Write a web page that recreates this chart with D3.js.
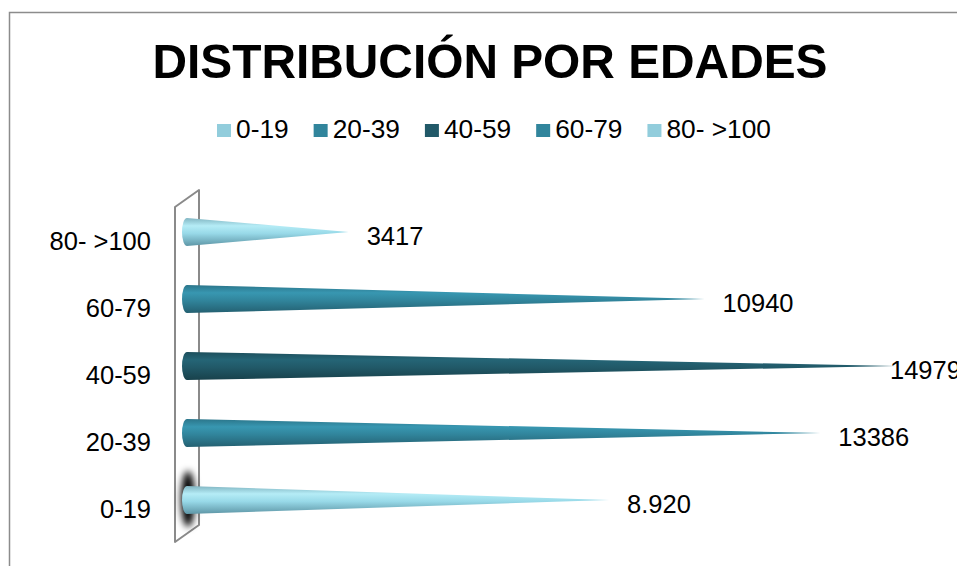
<!DOCTYPE html>
<html><head><meta charset="utf-8">
<script src="https://cdn.jsdelivr.net/npm/d3@7"></script>
<style>
html,body{margin:0;padding:0;background:#fff;}
svg{display:block;font-family:"Liberation Sans",Arial,sans-serif;}
</style></head>
<body>
<svg id="chart" width="957" height="566"></svg>
<script>
const title = "DISTRIBUCIÓN POR EDADES";
const categories = ["0-19", "20-39", "40-59", "60-79", "80- >100"];
const values = [8920, 13386, 14979, 10940, 3417];
const valueLabels = ["8.920", "13386", "14979", "10940", "3417"];
const colors = ["#92CDDC", "#31859C", "#215968", "#31859C", "#92CDDC"];
const xDomain = [0, 16000];

const W = 957, H = 566;
const svg = d3.select("#chart");
const defs = svg.append("defs");

// outer chart border (clipped at right/bottom)
svg.append("path").attr("d", `M9.5,${H} V12.5 H${W}`)
  .attr("fill", "none").attr("stroke", "#8c8c8c").attr("stroke-width", 1.5);

// title
svg.append("text").attr("x", 490).attr("y", 78).attr("text-anchor", "middle")
  .attr("font-size", 49).attr("font-weight", "bold").attr("fill", "#000")
  .attr("textLength", 675).attr("lengthAdjust", "spacingAndGlyphs")
  .text(title);

// legend
const leg = svg.append("g");
let lx = 217;
categories.forEach((c, i) => {
  leg.append("rect").attr("x", lx).attr("y", 124).attr("width", 14).attr("height", 13).attr("fill", colors[i]);
  const t = leg.append("text").attr("x", lx + 19).attr("y", 138).attr("font-size", 26.3).attr("fill", "#000").text(c);
  const w = t.node().getComputedTextLength();
  lx += 19 + w + 25;
});

// scales
const x = d3.scaleLinear().domain(xDomain).range([187, 944]);
const y = d3.scaleBand().domain(categories.slice().reverse()).range([198.5, 533.5]).padding(0);
const cy = c => y(c) + y.bandwidth() / 2;
const R = 14;

// back wall
svg.append("path")
  .attr("d", "M175,207 L199,190 L199,525 L175,542 Z")
  .attr("fill", "#fff").attr("stroke", "#8a8a8a").attr("stroke-width", 2).attr("stroke-linejoin", "round");

// shadow under first cone
const blur = defs.append("filter").attr("id", "blur").attr("x", "-100%").attr("y", "-50%").attr("width", "300%").attr("height", "200%");
blur.append("feGaussianBlur").attr("stdDeviation", 3.5);
svg.append("ellipse").attr("cx", x(0) + 1).attr("cy", cy(categories[0]) - 1)
  .attr("rx", 7).attr("ry", 28).attr("fill", "#000").attr("filter", "url(#blur)");

// gradients
categories.forEach((c, i) => {
  const col = d3.color(colors[i]);
  const g = defs.append("linearGradient").attr("id", "g" + i).attr("x1", 0).attr("y1", 0).attr("x2", 0).attr("y2", 1);
  const stops = [
    [0, col.darker(0.35)],
    [0.28, col.brighter(0.35)],
    [0.55, col],
    [1, col.darker(0.9)]
  ];
  if (i === 0 || i === 4) {
    stops[1][1] = d3.color("#b5ecf6");
    stops[2][1] = d3.color("#98d9e8");
    stops[3][1] = d3.color("#5e96a6");
  }
  stops.forEach(s => g.append("stop").attr("offset", s[0]).attr("stop-color", s[1].formatHex()));
});

// cones
const cones = svg.append("g");
categories.forEach((c, i) => {
  const x0 = x(0), x1 = x(values[i]), yc = cy(c);
  cones.append("path")
    .attr("d", `M${x0},${yc - R} L${x1},${yc} L${x0},${yc + R} A5,${R} 0 0 1 ${x0},${yc - R} Z`)
    .attr("fill", `url(#g${i})`);
});

// category labels
svg.append("g").selectAll("text").data(categories).join("text")
  .attr("x", 151).attr("y", d => cy(d) + 18).attr("text-anchor", "end")
  .attr("font-size", 25.5).attr("fill", "#000").text(d => d);

// data labels
svg.append("g").selectAll("text").data(categories).join("text")
  .attr("x", (d, i) => Math.min(x(values[i]) + 18, W - 67))
  .attr("y", d => cy(d) + 13)
  .attr("font-size", 25.5).attr("fill", "#000")
  .text((d, i) => valueLabels[i]);
</script>
</body></html>
